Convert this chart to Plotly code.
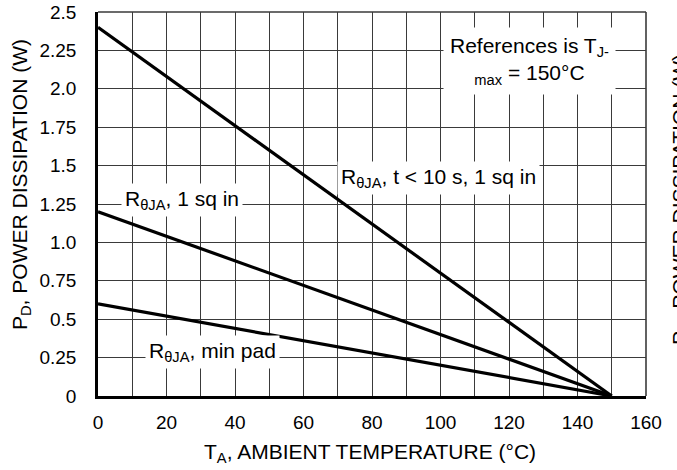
import plotly.graph_objects as go

# Data
temps = [0, 150]
pd_t10s_1sq = [2.4, 0.0]
pd_1sq = [1.2, 0.0]
pd_minpad = [0.6, 0.0]

x_ticks = [0, 20, 40, 60, 80, 100, 120, 140, 160]
y_ticks = [0, 0.25, 0.5, 0.75, 1.0, 1.25, 1.5, 1.75, 2.0, 2.25, 2.5]
y_tick_text = ["0", "0.25", "0.5", "0.75", "1.0", "1.25", "1.5", "1.75", "2.0", "2.25", "2.5"]

FONT = "Liberation Sans, Arial, Helvetica, sans-serif"
FS = 19
AFS = 21

fig = go.Figure()
for ys in (pd_t10s_1sq, pd_1sq, pd_minpad):
    fig.add_trace(go.Scatter(x=temps, y=ys, mode="lines",
                             line=dict(color="black", width=3.2),
                             showlegend=False, hoverinfo="skip"))

fig.update_layout(
    width=677, height=470,
    margin=dict(l=98, r=31, t=12, b=74, autoexpand=False),
    paper_bgcolor="white", plot_bgcolor="white",
    font=dict(family=FONT, size=FS, color="black"),
    showlegend=False,
)

fig.update_xaxes(
    range=[0, 160], tickmode="array", tickvals=x_ticks,
    ticktext=[str(v) for v in x_ticks],
    showgrid=True, gridcolor="#3a3a3a", gridwidth=1.3,
    minor=dict(showgrid=True, dtick=10, tick0=0, gridcolor="#3a3a3a", gridwidth=1.3),
    showline=True, linecolor="black", linewidth=2.6,
    zeroline=False, ticks="", ticklen=0, ticklabelstandoff=7,
    tickfont=dict(size=FS),
)
fig.update_yaxes(
    range=[0, 2.5], tickmode="array", tickvals=y_ticks, ticktext=y_tick_text,
    showgrid=True, gridcolor="#3a3a3a", gridwidth=1.3,
    showline=True, linecolor="black", linewidth=2.6,
    zeroline=False, ticks="", ticklen=0, ticklabelstandoff=15,
    tickfont=dict(size=FS),
)

# border top/right
fig.add_shape(type="line", xref="paper", yref="paper", x0=0, x1=1, y0=1, y1=1,
              line=dict(color="#3a3a3a", width=1.3), layer="below")
fig.add_shape(type="line", xref="paper", yref="paper", x0=1, x1=1, y0=0, y1=1,
              line=dict(color="#3a3a3a", width=1.6), layer="below")

ann_common = dict(showarrow=False, bgcolor="white", xanchor="center", yanchor="middle",
                  font=dict(family=FONT, size=AFS, color="black"))

fig.add_annotation(x=24.6, y=1.275, xref="x", yref="y",
                   text="R<sub>θJA</sub>, 1 sq in", borderpad=3, **ann_common)
fig.add_annotation(x=99.3, y=1.42, xref="x", yref="y",
                   text="R<sub>θJA</sub>, t &lt; 10 s, 1 sq in", borderpad=3, **ann_common)
fig.add_annotation(x=33.3, y=0.285, xref="x", yref="y",
                   text="R<sub>θJA</sub>, min pad", borderpad=3, **ann_common)
fig.add_annotation(x=126, y=2.18, xref="x", yref="y",
                   text="References is T<sub>J-</sub><br><sub>max</sub> = 150°C",
                   borderpad=6, align="center", **ann_common)

# axis titles (positions given relative to the plot area in pixels)
def px(sx):
    return (sx - 98) / 548

def py(sy):
    return (396 - sy) / 384

title_common = dict(xref="paper", yref="paper", showarrow=False, xanchor="center",
                    yanchor="middle", font=dict(family=FONT, size=AFS, color="black"))
fig.add_annotation(x=px(370), y=py(453),
                   text="T<sub>A</sub>, AMBIENT TEMPERATURE (°C)", **title_common)
fig.add_annotation(x=px(21), y=py(185), textangle=-90,
                   text="P<sub>D</sub>, POWER DISSIPATION (W)", **title_common)
fig.add_annotation(x=px(681), y=py(200), textangle=-90,
                   text="P<sub>D</sub>, POWER DISSIPATION (W)", **title_common)

fig.write_html("out.html", config={"displayModeBar": False},
               post_script="document.body.style.margin='0';")
